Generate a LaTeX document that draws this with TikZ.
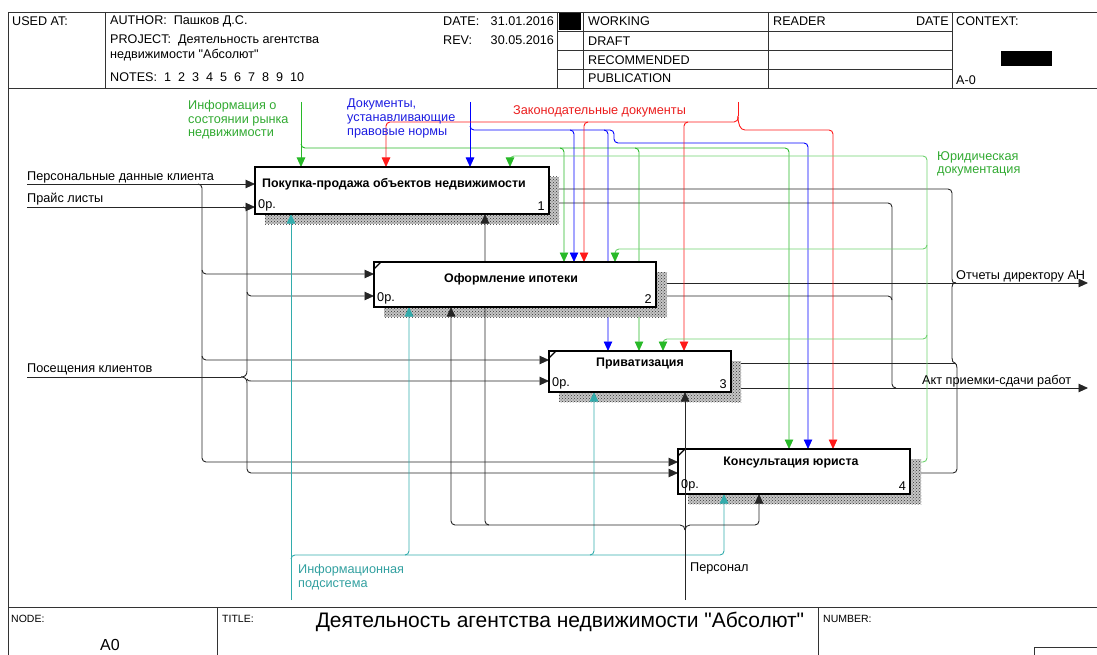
\documentclass[tikz,border=0pt]{standalone}
\usepackage{fontspec}
\setmainfont{Liberation Sans}[Ligatures=TeXOff]
\usetikzlibrary{arrows.meta,patterns}

\definecolor{cgreen}{RGB}{40,185,40}
\definecolor{clgreen}{RGB}{110,210,110}
\definecolor{cblue}{RGB}{0,0,255}
\definecolor{cred}{RGB}{255,25,25}
\definecolor{cteal}{RGB}{50,172,172}
\definecolor{tgreen}{RGB}{50,170,50}
\definecolor{tblue}{RGB}{30,30,225}
\definecolor{tred}{RGB}{235,30,30}
\definecolor{tteal}{RGB}{50,160,160}

\newcommand{\hdrfont}{\fontsize{12.6}{14}\selectfont}
\newcommand{\labfont}{\fontsize{12.7}{13.6}\selectfont}
\newcommand{\boxfont}{\fontsize{12.4}{14}\selectfont\bfseries}

\begin{document}
\begin{tikzpicture}[x=1pt,y=-1pt,
  frame/.style={line width=0.8pt,draw=black!80},
  conn/.style={line width=0.9pt,draw=black!85},
  tip/.style={-{Triangle[length=9.5pt,width=8.5pt]}},
  gline/.style={line width=0.9pt,draw=cgreen},
  lgline/.style={line width=0.9pt,draw=clgreen},
  bline/.style={line width=0.9pt,draw=cblue},
  rline/.style={line width=0.9pt,draw=cred},
  tline/.style={line width=0.9pt,draw=cteal},
  ltip/.style={-{Triangle[length=9.5pt,width=8.5pt,color=cgreen]}},
  func/.style={draw=black,line width=2pt,fill=white,outer sep=0pt,inner sep=0pt,anchor=north west},
  shadow/.style={fill=gray!45,postaction={pattern=crosshatch dots,pattern color=black!80}},
  txt/.style={inner sep=0pt,anchor=west},
  lab/.style={inner sep=0pt,anchor=west,font=\labfont},
  mlab/.style={inner sep=0pt,anchor=north west,align=left,font=\labfont},
  every node/.style={inner sep=0pt}]
\useasboundingbox (0,0) rectangle (1097,655);

% ---------- header form ----------
\draw[frame] (8,12) -- (1097,12);
\draw[frame] (8,12) -- (8,655);
\draw[frame] (105,12) -- (105,88);
\draw[frame] (557,12) -- (557,88);
\draw[frame] (583,12) -- (583,88);
\draw[frame] (768,12) -- (768,88);
\draw[frame] (952,12) -- (952,88);
\draw[frame] (557,31) -- (952,31);
\draw[frame] (557,50) -- (952,50);
\draw[frame] (557,69) -- (952,69);
\draw[frame] (8,88) -- (1097,88);
\fill (559,13) rectangle (581,30);
\fill (1001,51) rectangle (1052,66);

\node[txt] (usedat) at (12,21) {\hdrfont USED AT:};
\node[txt] (author) at (110,21) {\hdrfont AUTHOR:\ \ Пашков Д.С.};
\node[txt] (project) at (110,40) {\hdrfont PROJECT:\ \ Деятельность агентства};
\node[txt] (project2) at (110,55) {\hdrfont недвижимости "Абсолют"};
\node[txt] (notes) at (110,77) {\hdrfont NOTES:\ \ 1\ \ 2\ \ 3\ \ 4\ \ 5\ \ 6\ \ 7\ \ 8\ \ 9\ \ 10};
\node[txt] (date) at (443,21) {\hdrfont DATE:};
\node[txt,anchor=east] (dateval) at (554,21) {\hdrfont 31.01.2016};
\node[txt] (rev) at (443,40) {\hdrfont REV:};
\node[txt,anchor=east] (revval) at (554,40) {\hdrfont 30.05.2016};
\node[txt] (working) at (588,21) {\hdrfont WORKING};
\node[txt] (draft) at (588,41) {\hdrfont DRAFT};
\node[txt] (recom) at (588,60) {\hdrfont RECOMMENDED};
\node[txt] (publ) at (588,78) {\hdrfont PUBLICATION};
\node[txt] (reader) at (773,21) {\hdrfont READER};
\node[txt,anchor=east] (rdate) at (949,21) {\hdrfont DATE};
\node[txt] (context) at (956,21) {\hdrfont CONTEXT:};
\node[txt] (ctxnode) at (956,80) {\hdrfont A-0};

% ---------- footer form ----------
\draw[frame] (8,607) -- (1097,607);
\draw[frame] (217,607) -- (217,655);
\draw[frame] (818,607) -- (818,655);
\draw[frame] (1034,647) rectangle (1110,670);
\node[txt] (nodelbl) at (11,619) {\fontsize{10.5}{12}\selectfont NODE:};
\node[txt] (titlelbl) at (222,619) {\fontsize{10.5}{12}\selectfont TITLE:};
\node[txt] (numlbl) at (823,619) {\fontsize{10.5}{12}\selectfont NUMBER:};
\node (nodeval) at (110,645) {\fontsize{16}{18}\selectfont A0};
\node (title) at (560,622) {\fontsize{21}{24}\selectfont Деятельность агентства недвижимости "Абсолют"};

% ---------- activity boxes (placed first so that arrows can refer to them) ----------
\path (255,167) node[func,minimum width=294pt,minimum height=47pt] (b1) {};
\path (374,262) node[func,minimum width=282pt,minimum height=45pt] (b2) {};
\path (549,351) node[func,minimum width=182pt,minimum height=41pt] (b3) {};
\path (678,449) node[func,minimum width=232pt,minimum height=45pt] (b4) {};

% free ends of boundary arrows
\coordinate (pdk) at (27,184);
\coordinate (pl) at (27,207);
\coordinate (pk) at (27,377);
\coordinate (info) at (301,102);
\coordinate (docs) at (470,102);
\coordinate (law) at (738,102);
\coordinate (isys) at (291,600);
\coordinate (pers) at (685,600);
\coordinate (otch) at (1088,283);
\coordinate (akt) at (1088,388);

% ---------- inputs ----------
\draw[conn,tip] (pdk) -- (b1.west |- pdk);
\draw[conn,tip] (198,184) to[out=0,in=90] (202,188) -- (202,458) to[out=-90,in=180] (206,462) -- (b4.west |- 0,462);
\draw[conn,tip] (202,270) to[out=-90,in=180] (206,274) -- (b2.west |- 0,274);
\draw[conn,tip] (202,356) to[out=-90,in=180] (206,360) -- (b3.west |- 0,360);

\draw[conn,tip] (pl) -- (b1.west |- pl);
\draw[conn] (243,207) to[out=0,in=90] (247,211) -- (247,371) .. controls (247,375) and (245,377) .. (241,377);
\draw[conn,tip] (241,377) .. controls (245,377) and (247,379) .. (247,383) -- (247,469) to[out=-90,in=180] (251,473) -- (b4.west |- 0,473);
\draw[conn,tip] (247,292) to[out=-90,in=180] (251,296) -- (b2.west |- 0,296);
\draw[conn,tip] (247,379) to[out=-90,in=180] (251,381) -- (b3.west |- 0,381);
\draw[conn] (pk) -- (241,377);

% ---------- outputs ----------
\draw[conn] (b1.east |- 0,189) -- (948,189) to[out=0,in=90] (952,193) -- (952,279) .. controls (952,282) and (953,283) .. (956,283);
\draw[conn] (956,283) .. controls (953,283) and (952,284) .. (952,287) -- (952,358) .. controls (952,361) and (953,363) .. (955,363);
\draw[conn] (955,363) .. controls (956,364) and (957,365) .. (957,368) -- (957,469) to[out=-90,in=0] (953,473) -- (b4.east |- 0,473);
\draw[conn] (b3.east |- 0,363) -- (955,363);
\draw[conn,tip] (b2.east |- otch) -- (otch);

\draw[conn] (b1.east |- 0,203) -- (888,203) to[out=0,in=90] (892,207) -- (892,384) to[out=-90,in=180] (896,388);
\draw[conn] (b2.east |- 0,296) -- (888,296) to[out=0,in=90] (892,300);
\draw[conn,tip] (b3.east |- akt) -- (akt);

% ---------- controls ----------
% market information
\draw[gline,tip] (info) -- (b1.north -| info);
\draw[gline,tip] (301,144) to[out=-90,in=180] (305,148) -- (560,148) to[out=0,in=90] (564,152) -- (b2.north -| 564,0);
\draw[gline,tip] (560,148) -- (635,148) to[out=0,in=90] (639,152) -- (b3.north -| 639,0);
\draw[gline,tip] (635,148) -- (785,148) to[out=0,in=90] (789,152) -- (b4.north -| 789,0);
% legal norms documents
\draw[bline,tip] (docs) -- (b1.north -| docs);
\draw[bline,tip] (470,126) to[out=-90,in=180] (474,130) -- (570,130) to[out=0,in=90] (574,134) -- (b2.north -| 574,0);
\draw[bline,tip] (570,130) -- (604,130) to[out=0,in=90] (608,134) -- (b3.north -| 608,0);
\draw[bline,tip] (604,130) -- (610,130) to[out=0,in=90] (614,134) -- (614,139) to[out=-90,in=180] (618,143) -- (804,143) to[out=0,in=90] (808,147) -- (b4.north -| 808,0);
% legislation
\draw[rline] (law) -- (738,116);
\draw[rline,tip] (738,116) .. controls (738,120) and (737,122) .. (734,122) -- (390,122) to[out=180,in=90] (386,126) -- (b1.north -| 386,0);
\draw[rline,tip] (588,122) to[out=180,in=90] (584,126) -- (b2.north -| 584,0);
\draw[rline,tip] (688,122) to[out=180,in=90] (684,126) -- (b3.north -| 684,0);
\draw[rline,tip] (738,116) .. controls (738,124) and (740,130) .. (745,130) -- (829,130) to[out=0,in=90] (833,134) -- (b4.north -| 833,0);
% legal documentation fed back from box 4
\draw[lgline,ltip] (b4.east |- 0,462) -- (923,462) to[out=0,in=-90] (927,458) -- (927,160) to[out=90,in=0] (923,156) -- (514,156) to[out=180,in=90] (510,160) -- (b1.north -| 510,0);
\draw[lgline,ltip] (927,245) to[out=-90,in=0] (923,249) -- (619,249) to[out=180,in=90] (615,253) -- (b2.north -| 615,0);
\draw[lgline,ltip] (927,335) to[out=-90,in=0] (923,339) -- (667,339) to[out=180,in=90] (663,343) -- (b3.north -| 663,0);

% ---------- shadows ----------
\fill[shadow] (265,214) rectangle (559,224);
\fill[shadow] (549,177) rectangle (559,224);
\fill[shadow] (384,307) rectangle (667,317);
\fill[shadow] (656,272) rectangle (667,317);
\fill[shadow] (559,392) rectangle (741,402);
\fill[shadow] (731,361) rectangle (741,402);
\fill[shadow] (688,494) rectangle (921,504);
\fill[shadow] (910,459) rectangle (921,504);

% ---------- mechanisms ----------
\draw[tline,tip] (isys) -- (b1.south -| isys);
\draw[tline,tip] (291,559) to[out=90,in=180] (295,555) -- (720,555) to[out=0,in=-90] (724,551) -- (b4.south -| 724,0);
\draw[tline,tip] (405,555) to[out=0,in=-90] (409,551) -- (b2.south -| 409,0);
\draw[tline,tip] (590,555) to[out=0,in=-90] (594,551) -- (b3.south -| 594,0);

\draw[conn,tip] (685,530) .. controls (685,527) and (683,525) .. (680,525) -- (455,525) to[out=180,in=-90] (451,521) -- (b2.south -| 451,0);
\draw[conn,tip] (489,525) to[out=180,in=-90] (485,521) -- (b1.south -| 485,0);
\draw[conn,tip] (685,530) .. controls (685,527) and (687,525) .. (690,525) -- (755,525) to[out=0,in=-90] (759,521) -- (b4.south -| 759,0);

% ---------- boxes on top ----------
\path (255,167) node[func,minimum width=294pt,minimum height=47pt] {};
\path (374,262) node[func,minimum width=282pt,minimum height=45pt] {};
\path (549,351) node[func,minimum width=182pt,minimum height=41pt] {};
\path (678,449) node[func,minimum width=232pt,minimum height=45pt] {};
\foreach \b in {b2,b3,b4}
  \draw[line width=1.2pt] ([yshift=-7pt]\b.north west) -- ([xshift=7pt]\b.north west);

\draw[conn,tip] (pers) -- (b3.south -| pers);

% ---------- box texts ----------
\node[txt] (t1) at (262,184) {\boxfont Покупка-продажа объектов недвижимости};
\node (t2) at (511,279) {\boxfont Оформление ипотеки};
\node (t3) at (640,364) {\boxfont Приватизация};
\node (t4) at (791,463) {\boxfont Консультация юриста};
\foreach \b/\n in {b1/1,b2/2,b3/3,b4/4}{
  \node[txt,anchor=south west] at ([xshift=3pt,yshift=3pt]\b.south west) {\labfont 0р.};
  \node[txt,anchor=south east] at ([xshift=-4pt,yshift=3pt]\b.south east) {\labfont \n};
}

% ---------- arrow labels ----------
\node[lab] (l1) at (27,177) {Персональные данные клиента};
\node[lab] (l2) at (27,199) {Прайс листы};
\node[lab] (l3) at (27,369) {Посещения клиентов};
\node[mlab,text=tgreen] (l4) at (188,100) {Информация о\\состоянии рынка\\недвижимости};
\node[mlab,text=tblue] (l5) at (347,99) {Документы,\\устанавливающие\\правовые нормы};
\node[lab,text=tred] (l6) at (513,111) {Законодательные документы};
\node[mlab,text=tgreen] (l7) at (937,151) {Юридическая\\документация};
\node[lab] (l8) at (956,276) {Отчеты директору АН};
\node[lab] (l9) at (922,381) {Акт приемки-сдачи работ};
\node[mlab,text=tteal] (l10) at (298,564) {Информационная\\подсистема};
\node[lab] (l11) at (690,568) {Персонал};
\end{tikzpicture}
\end{document}
